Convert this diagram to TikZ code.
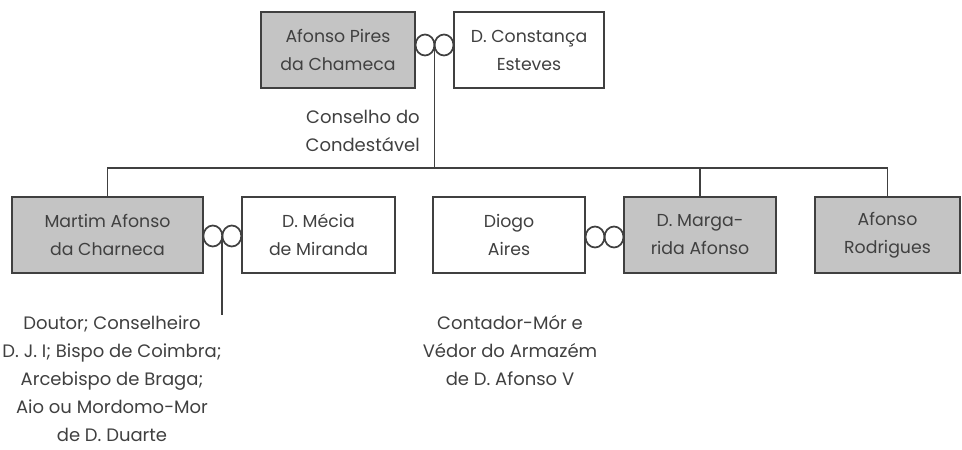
\documentclass[tikz,border=0pt]{standalone}
\usepackage{fontspec}
\setmainfont{Poppins}
\usetikzlibrary{calc}
\definecolor{ink}{HTML}{404040}
\definecolor{shade}{HTML}{C4C4C4}
\begin{document}
\begin{tikzpicture}[x=0.75pt,y=-0.75pt,line width=1.3pt,draw=ink,
  every node/.style={font=\fontsize{13}{21}\selectfont,text=ink,align=center},
  person/.style={draw=ink,inner sep=0pt,minimum height=57.5pt},
  kin/.style={person,fill=shade},
  note/.style={font=\fontsize{13.5}{21}\selectfont}]
\useasboundingbox (0,0) rectangle (962,449);
% first generation
\node[kin,minimum width=115.5pt] (pires) at (338,50) {Afonso Pires\\da Chameca};
\node[person,minimum width=112.5pt] (constanca) at (529,50) {D. Constança\\Esteves};
% second generation
\node[kin,minimum width=143pt] (martim) at (107.5,235) {Martim Afonso\\da Charneca};
\node[person,minimum width=115pt] (mecia) at (318.5,235) {D. Mécia\\de Miranda};
\node[person,minimum width=114pt] (diogo) at (509,235) {Diogo\\Aires};
\node[kin,minimum width=114pt] (margarida) at (700,235) {D. Marga-\\rida Afonso};
\node[kin,minimum width=109pt] (rodrigues) at (887.5,235) {Afonso\\Rodrigues};
% marriage rings
\foreach \a/\b/\r/\y in {pires/constanca/ringA/45,martim/mecia/ringB/236,diogo/margarida/ringC/237} {
  \coordinate (\r) at ($(\a.east)!0.5!(\b.west)$);
  \coordinate (\r) at (\r |- 0,\y);
  \draw (\r) ++(-9.5,0) circle[x radius=9.5,y radius=10.5];
  \draw (\r) ++(9.5,0) circle[x radius=9.5,y radius=10.5];
}
% descent
\coordinate (bar) at (0,168);
\draw (ringA) -- (ringA |- bar);
\draw (martim.north) -- (martim.north |- bar) -- (rodrigues.north |- bar) -- (rodrigues.north);
\draw (margarida.north |- bar) -- (margarida.north);
\coordinate (ringBend) at (ringB |- 0,315);
\draw (ringB) -- (ringBend);
% offices
\node[note,anchor=east,align=right] (conselho) at (425,131) {Conselho do\\Condestável};
\node[note] (doutor) at (112,379) {Doutor; Conselheiro\\D. J. I; Bispo de Coimbra;\\Arcebispo de Braga;\\Aio ou Mordomo-Mor\\de D. Duarte};
\node[note] (contador) at (510,350) {Contador-Mór e\\Védor do Armazém\\de D. Afonso V};
\end{tikzpicture}
\end{document}
